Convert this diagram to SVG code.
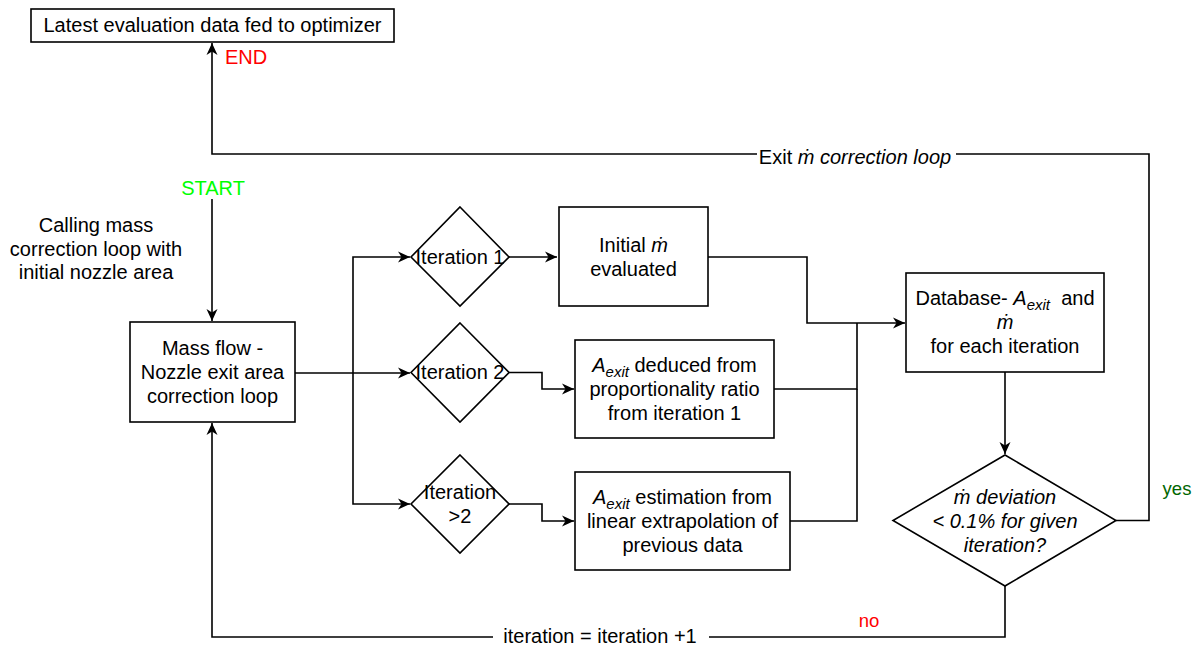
<svg xmlns="http://www.w3.org/2000/svg" width="1199" height="648" viewBox="0 0 1199 648">
<style>
text{font-family:"Liberation Sans",Arial,Helvetica,sans-serif;font-size:20px;fill:#000;text-anchor:middle}
.box{fill:#fff;stroke:#000;stroke-width:1.6}
.ln{fill:none;stroke:#000;stroke-width:1.6}
.arr{marker-end:url(#ah)}
.it{font-style:italic}
.sub{font-size:15px;font-style:italic}
.lbl{fill:#fff;stroke:none}
</style>
<defs>
<marker id="ah" viewBox="-12 -6 13 12" refX="0" refY="0" markerWidth="13" markerHeight="12" markerUnits="userSpaceOnUse" orient="auto">
<path d="M0,0 L-12,-5.5 L-8.5,0 L-12,5.5 Z" fill="#000"/>
</marker>
</defs>
<g id="connectors">
<path class="ln arr" d="M1116,520.5 H1149 V154 H212 V43"/>
<rect class="lbl" x="757" y="144" width="199" height="24"/>
<text x="855" y="164">Exit <tspan class="it">ṁ correction loop</tspan></text>
<path class="ln arr" d="M212,199 V321"/>
<path class="ln arr" d="M295,373 H410"/>
<path class="ln arr" d="M353,373 V257 H410"/>
<path class="ln arr" d="M353,373 V504 H410"/>
<path class="ln arr" d="M509,257 H557"/>
<path class="ln arr" d="M509,372.5 H542 V389 H574"/>
<path class="ln arr" d="M509,504 H542 V521 H574"/>
<path class="ln arr" d="M708,257 H807 V323 H905"/>
<path class="ln" d="M774,389 H857 V323"/>
<path class="ln" d="M790,521 H857 V389"/>
<path class="ln arr" d="M1005,372 V454"/>
<path class="ln arr" d="M1005,586 V637 H212 V423"/>
<rect class="lbl" x="493" y="626" width="216" height="22"/>
<text x="600" y="643">iteration = iteration +1</text>
</g>
<g id="top">
<rect class="box" x="31" y="9" width="363" height="33"/>
<text x="212.5" y="32">Latest evaluation data fed to optimizer</text>
</g>
<g id="end-label"><text x="246" y="64" style="fill:#ff0000">END</text></g>
<g id="start-label"><text x="213" y="195" style="fill:#00ff00">START</text></g>
<g id="calling">
<text x="96" y="232">Calling mass</text>
<text x="96" y="256">correction loop with</text>
<text x="96" y="279">initial nozzle area</text>
</g>
<g id="massflow">
<rect class="box" x="130" y="322" width="165" height="100"/>
<text x="212.5" y="355">Mass flow -</text>
<text x="212.5" y="379">Nozzle exit area</text>
<text x="212.5" y="403">correction loop</text>
</g>
<g id="iter1">
<polygon class="box" points="460,207 509,257 460,306 411,257"/>
<text x="460" y="264">Iteration 1</text>
</g>
<g id="iter2">
<polygon class="box" points="460,323 509,372.5 460,422 411,372.5"/>
<text x="460" y="379">Iteration 2</text>
</g>
<g id="iter3">
<polygon class="box" points="460,455 509,504 460,553 411,504"/>
<text x="460" y="499">Iteration</text>
<text x="460" y="523">&gt;2</text>
</g>
<g id="initial">
<rect class="box" x="559" y="207" width="149" height="99"/>
<text x="633.5" y="252">Initial <tspan class="it">ṁ</tspan></text>
<text x="633.5" y="276">evaluated</text>
</g>
<g id="deduced">
<rect class="box" x="575" y="340" width="199" height="98"/>
<text x="674.5" y="372"><tspan class="it">A</tspan><tspan class="sub" dy="5">exit</tspan><tspan dy="-5"> deduced from</tspan></text>
<text x="674.5" y="396">proportionality ratio</text>
<text x="674.5" y="420">from iteration 1</text>
</g>
<g id="estimation">
<rect class="box" x="575" y="472" width="215" height="98"/>
<text x="682.5" y="504"><tspan class="it">A</tspan><tspan class="sub" dy="5">exit</tspan><tspan dy="-5"> estimation from</tspan></text>
<text x="682.5" y="528">linear extrapolation of</text>
<text x="682.5" y="552">previous data</text>
</g>
<g id="database">
<rect class="box" x="906" y="273" width="198" height="99"/>
<text x="1005" y="305">Database- <tspan class="it">A</tspan><tspan class="sub" dy="5">exit</tspan><tspan dy="-5">&#160; and</tspan></text>
<text x="1005" y="329" class="it">ṁ</text>
<text x="1005" y="353">for each iteration</text>
</g>
<g id="decision">
<polygon class="box" points="1005,455 1116,520.5 1005,586 893,520.5"/>
<text x="1005" y="504" class="it">ṁ deviation</text>
<text x="1005" y="528" class="it">&lt; 0.1% for given</text>
<text x="1005" y="552" class="it">iteration?</text>
</g>
<g id="yes-label"><text x="1177" y="495" style="fill:#006600;font-size:18.5px">yes</text></g>
<g id="no-label"><text x="869" y="627" style="fill:#ff0000;font-size:18.5px">no</text></g>
</svg>
